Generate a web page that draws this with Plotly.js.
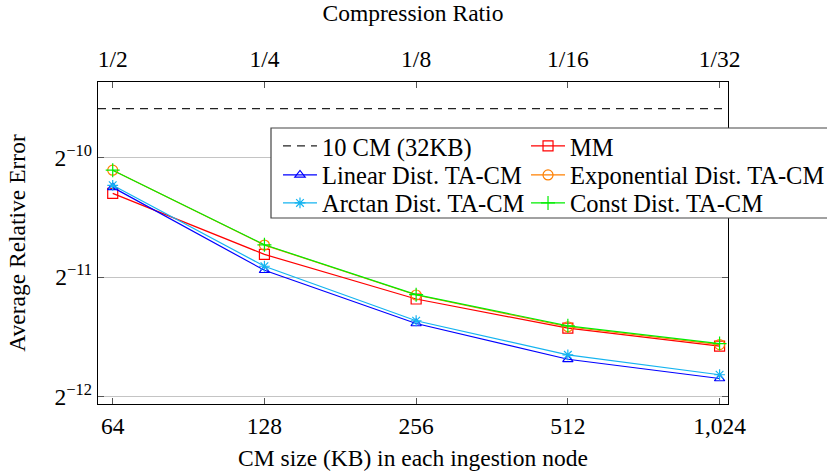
<!DOCTYPE html>
<html>
<head>
<meta charset="utf-8">
<script src="https://cdn.plot.ly/plotly-3.0.1.min.js"></script>
<style>
  html, body { margin: 0; padding: 0; background: #fff; }
  #chart { width: 827px; height: 475px; }
</style>
</head>
<body>
<div id="chart"></div>
<script>
// CM size per ingestion node (KB) and the matching compression ratio
const cmSizes = [64, 128, 256, 512, 1024];
const cmSizeLabels = ['64', '128', '256', '512', '1,024'];
const ratioLabels = ['1/2', '1/4', '1/8', '1/16', '1/32'];

// Average relative error per scheme
const baselineError = 0.001299;               // 10 CM (32KB)
const mmError       = [0.000794, 0.000557, 0.000430, 0.000363, 0.000327];
const linearError   = [0.000822, 0.000508, 0.000373, 0.000303, 0.000271];
const expError      = [0.000908, 0.000588, 0.000440, 0.000366, 0.000330];
const arctanError   = [0.000832, 0.000520, 0.000379, 0.000311, 0.000277];
const constError    = [0.000908, 0.000589, 0.000441, 0.000368, 0.000332];

// Power-of-two ticks on the error axis
const yTickVals = [Math.pow(2, -12), Math.pow(2, -11), Math.pow(2, -10)];
const yTickText = ['2<sup>−12</sup>', '2<sup>−11</sup>', '2<sup>−10</sup>'];

// Axis extents (log10)
const xLogRange = [1.777, 3.027];
const yLogRange = [-3.6313, -2.8195];

const FONT = "'Liberation Serif', 'Times New Roman', serif";
const LEG_FONT = { family: FONT, size: 24.5, color: '#000' };
const TITLE_FONT = { family: FONT, size: 23.5, color: '#000' };
const TICK_FONT = { family: FONT, size: 23.5, color: '#000' };

function series(name, y, color, symbol, size, legendId) {
  return {
    type: 'scatter', mode: 'lines+markers', name: name,
    x: cmSizes, y: y, legend: legendId,
    line: { color: color, width: 1.2 },
    marker: { symbol: symbol, size: size, color: color, line: { color: color, width: 1.2 } },
    hoverinfo: 'skip'
  };
}

const traces = [
  {
    type: 'scatter', mode: 'lines', name: '10 CM (32KB)',
    x: [Math.pow(10, xLogRange[0]), Math.pow(10, xLogRange[1])],
    y: [baselineError, baselineError],
    line: { color: '#222', width: 1.2, dash: '8px,6px' },
    legend: 'legend', hoverinfo: 'skip'
  },
  series('MM', mmError, '#ff0000', 'square-open', 10, 'legend2'),
  series('Linear Dist. TA-CM', linearError, '#0000ff', 'triangle-up-open', 9, 'legend3'),
  series('Exponential Dist. TA-CM', expError, '#ff8000', 'circle-open', 10, 'legend4'),
  series('Arctan Dist. TA-CM', arctanError, '#14b4f0', 'asterisk-open', 9, 'legend5'),
  series('Const Dist. TA-CM', constError, '#00ee00', 'cross-thin-open', 10, 'legend6'),
  {
    // carries the top compression-ratio axis
    type: 'scatter', mode: 'markers', x: cmSizes, y: expError,
    xaxis: 'x2', marker: { opacity: 0 }, showlegend: false, hoverinfo: 'skip'
  }
];

function legendAt(x, y) {
  return {
    x: x, y: y, xanchor: 'left', yanchor: 'middle',
    bgcolor: 'rgba(0,0,0,0)', borderwidth: 0, font: LEG_FONT, itemwidth: 34
  };
}

const colX = [0.2857, 0.6794];
const rowY = [0.8012, 0.7112, 0.6242];

const layout = {
  width: 827, height: 475,
  margin: { l: 98, r: 99, t: 82, b: 71, autoexpand: false },
  paper_bgcolor: '#fff', plot_bgcolor: '#fff',
  font: { family: FONT, size: 23, color: '#000' },
  showlegend: true,
  legend:  legendAt(colX[0], rowY[0]),
  legend2: legendAt(colX[1], rowY[0]),
  legend3: legendAt(colX[0], rowY[1]),
  legend4: legendAt(colX[1], rowY[1]),
  legend5: legendAt(colX[0], rowY[2]),
  legend6: legendAt(colX[1], rowY[2]),
  xaxis: {
    type: 'log', range: xLogRange,
    tickmode: 'array', tickvals: cmSizes, ticktext: cmSizeLabels, tickfont: TICK_FONT,
    ticks: 'inside', ticklen: 6, tickwidth: 1, tickcolor: '#555',
    showline: true, linecolor: '#000', linewidth: 1.3, mirror: true,
    showgrid: false, zeroline: false,
    title: { text: 'CM size (KB) in each ingestion node', font: TITLE_FONT, standoff: 12 }
  },
  xaxis2: {
    type: 'log', range: xLogRange, overlaying: 'x', side: 'top',
    tickmode: 'array', tickvals: cmSizes, ticktext: ratioLabels, tickfont: TICK_FONT,
    ticks: 'inside', ticklen: 6, tickwidth: 1, tickcolor: '#555', ticklabelstandoff: 9,
    showgrid: false, zeroline: false, showline: false,
    title: { text: 'Compression Ratio', font: TITLE_FONT }
  },
  yaxis: {
    type: 'log', range: yLogRange,
    tickmode: 'array', tickvals: yTickVals, ticktext: yTickText, tickfont: TICK_FONT,
    ticks: 'inside', ticklen: 6, tickwidth: 1, tickcolor: '#555',
    showline: true, linecolor: '#000', linewidth: 1.3, mirror: 'ticks',
    showgrid: true, gridcolor: '#c4c4c4', gridwidth: 1, zeroline: false,
    title: { text: 'Average Relative Error', font: TITLE_FONT, standoff: 22 }
  },
  shapes: [{
    // legend frame, drawn over the grid
    type: 'rect', xref: 'paper', yref: 'paper', layer: 'above',
    x0: 0.2746, x1: 1.35, y0: 0.5776, y1: 0.8571,
    line: { color: '#444', width: 1.2 }, fillcolor: '#fff'
  }]
};

Plotly.newPlot('chart', traces, layout, { staticPlot: true, displayModeBar: false });
</script>
</body>
</html>
